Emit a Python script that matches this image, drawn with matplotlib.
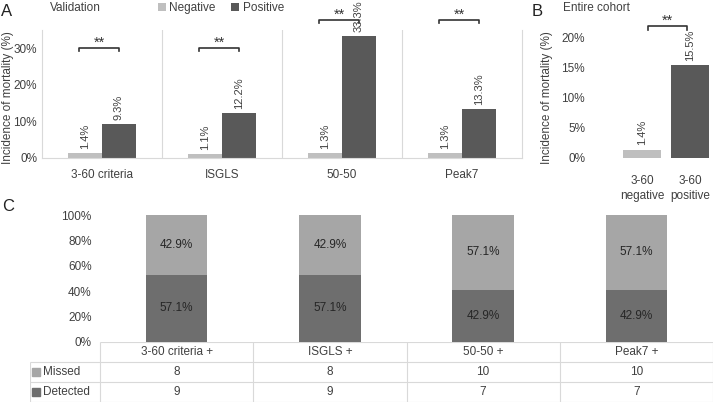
import matplotlib
matplotlib.use("Agg")
import matplotlib.pyplot as plt
import numpy as np
from matplotlib.ticker import PercentFormatter

plt.rcParams['font.family'] = ['Liberation Sans', 'DejaVu Sans']

# Panel A: validation, mortality by score result
groups = ['3-60 criteria', 'ISGLS', '50-50', 'Peak7']
neg_rates = [1.4, 1.1, 1.3, 1.3]
pos_rates = [9.3, 12.2, 33.3, 13.3]

# Panel B: entire cohort
cohort_labels = ['3-60\nnegative', '3-60\npositive']
cohort_rates = [1.4, 15.5]

# Panel C: detected / missed counts
c_labels = ['3-60 criteria +', 'ISGLS +', '50-50 +', 'Peak7 +']
missed = [8, 8, 10, 10]
detected = [9, 9, 7, 7]
missed_pct = ['42.9%', '42.9%', '57.1%', '57.1%']
detected_pct = ['57.1%', '57.1%', '42.9%', '42.9%']

NEG = '#bfbfbf'
POS = '#595959'
MISS = '#a6a6a6'
DET = '#6e6e6e'
GRID = '#d9d9d9'
TXT = '#404040'

W, H = 716, 403
fig = plt.figure(figsize=(W / 100, H / 100), dpi=100)


def rect(x0, y0, x1, y1):
    return [x0 / W, 1 - y1 / H, (x1 - x0) / W, (y1 - y0) / H]


def bracket(ax, x0, x1, y, dy):
    ax.plot([x0, x0, x1, x1], [y - dy, y, y, y - dy], color='#333333', lw=1.2, clip_on=False)
    ax.annotate('**', ((x0 + x1) / 2, y), xytext=(0, -1), textcoords='offset points',
                ha='center', va='bottom', fontsize=10.5, color='#333333',
                annotation_clip=False)


def value_labels(ax, bars, vals, size=8):
    for b, v in zip(bars, vals):
        ax.annotate(f'{v}%', (b.get_x() + b.get_width() / 2, v), xytext=(0, 3),
                    textcoords='offset points', rotation=90, ha='center', va='bottom',
                    fontsize=size, color=TXT, annotation_clip=False)


# ---- Panel A ----
axA = fig.add_axes(rect(42, 30, 522, 158))
x = np.arange(len(groups))
w = 0.283
bn = axA.bar(x - w, neg_rates, w, align='edge', color=NEG)
bp = axA.bar(x, pos_rates, w, align='edge', color=POS)
axA.set_xlim(-0.5, 3.5)
axA.set_ylim(0, 35)
axA.set_yticks([0, 10, 20, 30])
axA.yaxis.set_major_formatter(PercentFormatter(decimals=0))
axA.set_xticks(x)
axA.set_xticklabels(groups)
axA.spines['top'].set_visible(False)
for s in ['left', 'right', 'bottom']:
    axA.spines[s].set_color(GRID)
for sep in [0.5, 1.5, 2.5]:
    axA.axvline(sep, color=GRID, lw=0.8)
axA.tick_params(length=0, labelsize=8.5, colors=TXT)
axA.tick_params(axis='x', pad=8)
value_labels(axA, bn, neg_rates)
value_labels(axA, bp, pos_rates)
bracket_y = [30, 30, 37.7, 37.7]
for i, by in enumerate(bracket_y):
    bracket(axA, i - 0.19, i + 0.145, by, 0.8)

fig.legend(handles=[bn, bp], labels=['Negative', 'Positive'], loc='center left',
           bbox_to_anchor=(147 / W, 1 - 8 / H), ncol=2, frameon=False, fontsize=8.5,
           handlelength=0.7, handleheight=0.7, columnspacing=1.3, handletextpad=0.3,
           labelcolor=TXT)
fig.text(50 / W, 1 - 8 / H, 'Validation', fontsize=8.5, color=TXT, va='center')
fig.text(8 / W, 1 - 98 / H, 'Incidence of mortality (%)', rotation=90, fontsize=8.5,
         color=TXT, ha='center', va='center')
fig.text(1 / W, 1 - 12 / H, 'A', fontsize=12, color='#222222', va='center')

# ---- Panel B ----
axB = fig.add_axes(rect(590, 38, 714, 158))
xb = np.arange(len(cohort_rates))
bb = axB.bar(xb, cohort_rates, 0.79, color=[NEG, POS])
axB.set_xlim(-1.09, 1.49)
axB.set_ylim(0, 20)
axB.set_yticks([0, 5, 10, 15, 20])
axB.yaxis.set_major_formatter(PercentFormatter(decimals=0))
axB.set_xticks(xb)
axB.set_xticklabels(cohort_labels, linespacing=1.4)
for s in axB.spines.values():
    s.set_visible(False)
axB.tick_params(length=0, labelsize=8.5, colors=TXT)
axB.tick_params(axis='x', pad=12)
value_labels(axB, bb, cohort_rates)
bracket(axB, 0.115, 0.93, 22, 0.6)
fig.text(563 / W, 1 - 8 / H, 'Entire cohort', fontsize=8.5, color=TXT, va='center')
fig.text(547 / W, 1 - 98 / H, 'Incidence of mortality (%)', rotation=90, fontsize=8.5,
         color=TXT, ha='center', va='center')
fig.text(532 / W, 1 - 12 / H, 'B', fontsize=12, color='#222222', va='center')

# ---- Panel C ----
axC = fig.add_axes(rect(100, 215, 713, 342))
tot = np.array(missed) + np.array(detected)
det_frac = np.array(detected) / tot
miss_frac = np.array(missed) / tot
xc = np.arange(len(c_labels))
axC.bar(xc, det_frac, 0.4, color=DET)
axC.bar(xc, miss_frac, 0.4, bottom=det_frac, color=MISS)
for i in xc:
    axC.text(i, det_frac[i] / 2, detected_pct[i], ha='center', va='center', fontsize=8.5, color='#262626')
    axC.text(i, det_frac[i] + miss_frac[i] / 2, missed_pct[i], ha='center', va='center', fontsize=8.5, color='#262626')
axC.set_xlim(-0.5, 3.5)
axC.set_ylim(0, 1)
axC.set_yticks(np.arange(0, 1.01, 0.2))
axC.yaxis.set_major_formatter(PercentFormatter(1, decimals=0))
axC.set_xticks([])
for s in axC.spines.values():
    s.set_visible(False)
axC.tick_params(length=0, labelsize=8.5, colors=TXT, pad=6)
fig.text(2 / W, 1 - 207 / H, 'C', fontsize=12, color='#222222', va='center')

# table under panel C
axT = fig.add_axes(rect(30, 342, 713, 402))
left = -0.5 - 70 / 153.25
axT.set_xlim(left, 3.5)
axT.set_ylim(3, 0)
axT.axis('off')
axT.hlines(0, -0.5, 3.5, color=GRID, lw=0.8)
axT.hlines([1, 2, 3], left, 3.5, color=GRID, lw=0.8)
axT.vlines(np.arange(-0.5, 3.6, 1), 0, 3, color=GRID, lw=0.8)
axT.vlines(left, 1, 3, color=GRID, lw=0.8)
rows = [('Missed', missed, MISS), ('Detected', detected, DET)]
for i, lab in enumerate(c_labels):
    axT.text(i, 0.5, lab, ha='center', va='center', fontsize=8.5, color=TXT)
for r, (name, vals, col) in enumerate(rows, start=1):
    axT.plot(left + 0.04, r + 0.5, marker='s', ms=5.5, color=col, clip_on=False)
    axT.text(left + 0.085, r + 0.5, name, ha='left', va='center', fontsize=8.5, color=TXT)
    for i, v in enumerate(vals):
        axT.text(i, r + 0.5, str(v), ha='center', va='center', fontsize=8.5, color=TXT)

fig.savefig('out.png', dpi=100)
